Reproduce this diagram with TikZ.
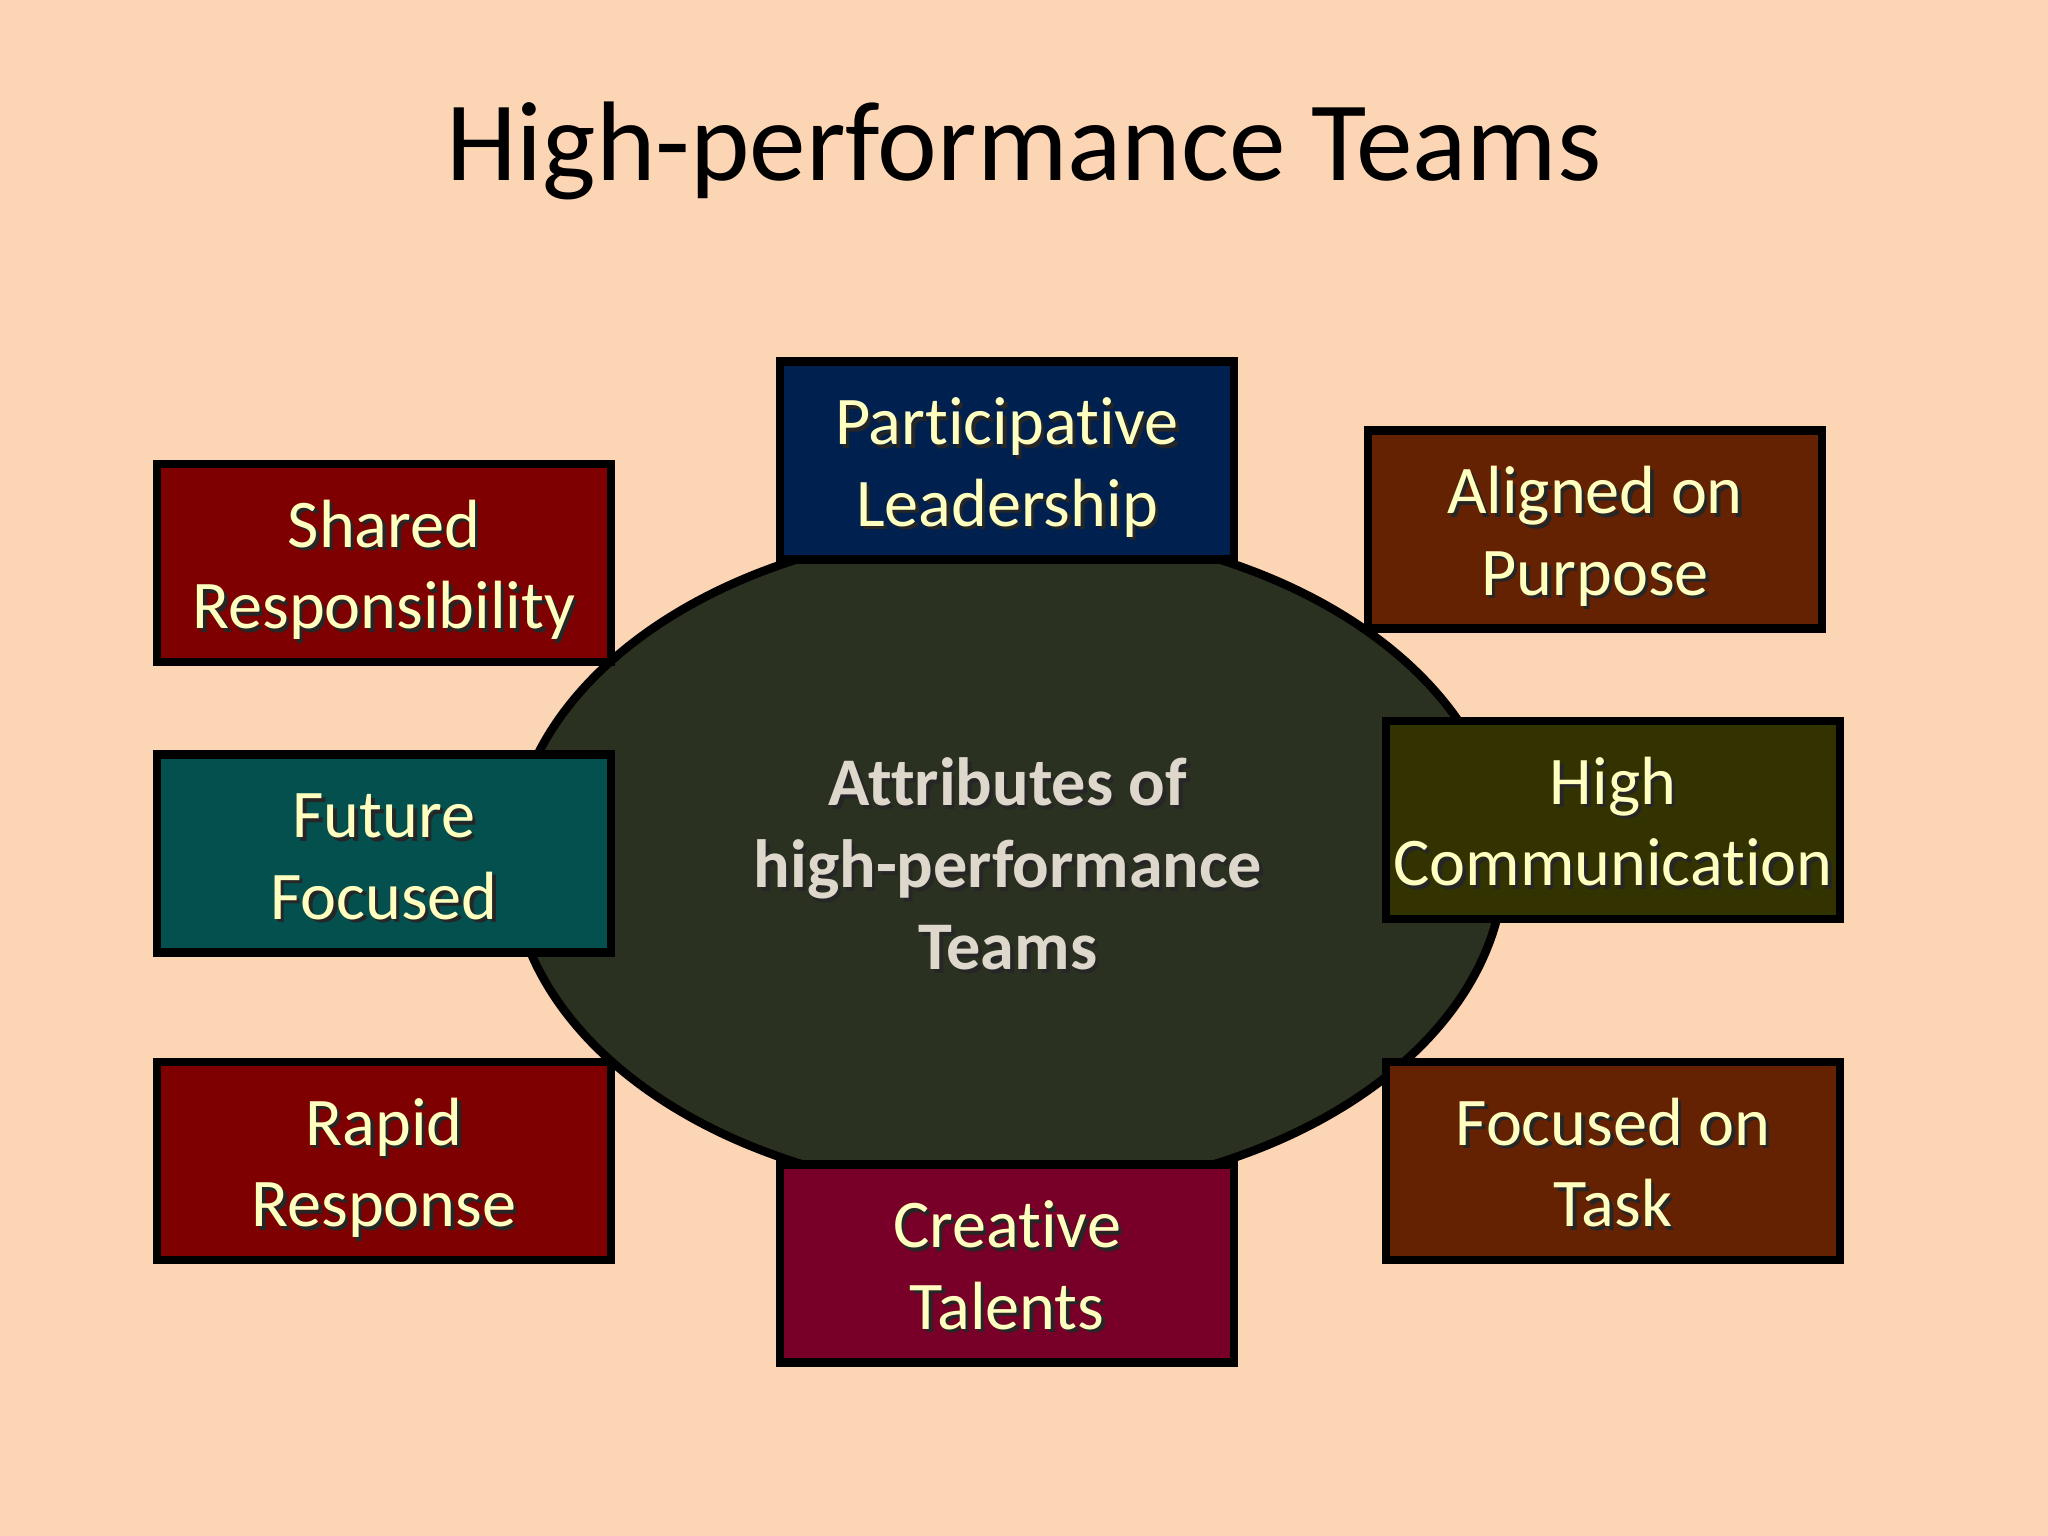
\documentclass[tikz,border=0pt]{standalone}
\usepackage{fontspec}
\setmainfont{Carlito}[Ligatures=NoCommon]
\usetikzlibrary{shapes.geometric}
\definecolor{bgpeach}{HTML}{FCD5B5}
\definecolor{txtyellow}{HTML}{FFFFC0}
\definecolor{coretxt}{HTML}{DED8CC}
\definecolor{corefill}{HTML}{2B3121}
\definecolor{navyfill}{HTML}{00214F}
\definecolor{redfill}{HTML}{7F0000}
\definecolor{brownfill}{HTML}{652203}
\definecolor{tealfill}{HTML}{04504F}
\definecolor{olivefill}{HTML}{333300}
\definecolor{winefill}{HTML}{780028}
\newcommand\shd[1]{\leavevmode\rlap{\kern1pt\raisebox{-1pt}{\color{black!85}#1}}#1}
\newcommand\twol[2]{\begin{tabular}[t]{@{}c@{}}\shd{#1}\\\shd{#2}\end{tabular}}
\tikzset{
  attrbox/.style={draw=black, line width=0.085cm, minimum width=4.54cm, minimum height=1.98cm,
    inner sep=0pt, text=txtyellow, font=\fontsize{19.4pt}{23.3pt}\selectfont,
    text height=16pt, text depth=25.1pt},
  corestyle/.style={ellipse, draw=black, line width=0.085cm, fill=corefill,
    minimum width=9.92cm, minimum height=6.66cm, inner sep=0pt, text=coretxt,
    font=\fontsize{19.4pt}{23.3pt}\selectfont\bfseries, text height=16pt, text depth=47.3pt},
  titlestyle/.style={anchor=base, text=black, font=\fontsize{32.2pt}{38pt}\selectfont}
}
\begin{document}
\begin{tikzpicture}[x=0.01cm,y=-0.01cm]
\useasboundingbox (0,0) rectangle (2048,1536);
\fill[bgpeach] (0,0) rectangle (2048,1536);
\node[titlestyle] (title) at (1024,180) {High-performance Teams};
\node[corestyle] (core) at (1008,861)
  {\begin{tabular}[t]{@{}c@{}}\shd{Attributes of}\\\shd{high-performance}\\\shd{Teams}\end{tabular}};
\node[attrbox, fill=navyfill] (lead) at (1007,460.5) {\twol{Participative}{Leadership}};
\node[attrbox, fill=redfill] (shared) at (384,563) {\twol{Shared}{Responsibility}};
\node[attrbox, fill=brownfill] (aligned) at (1595,529.5) {\twol{Aligned on}{Purpose}};
\node[attrbox, fill=tealfill] (future) at (384,853.5) {\twol{Future}{Focused}};
\node[attrbox, fill=olivefill] (comm) at (1613,820) {\twol{High}{Communication}};
\node[attrbox, fill=redfill] (rapid) at (384,1161) {\twol{Rapid}{Response}};
\node[attrbox, fill=brownfill] (task) at (1613,1161) {\twol{Focused on}{Task}};
\node[attrbox, fill=winefill] (creative) at (1007,1263.5) {\twol{Creative}{Talents}};
\end{tikzpicture}
\end{document}
